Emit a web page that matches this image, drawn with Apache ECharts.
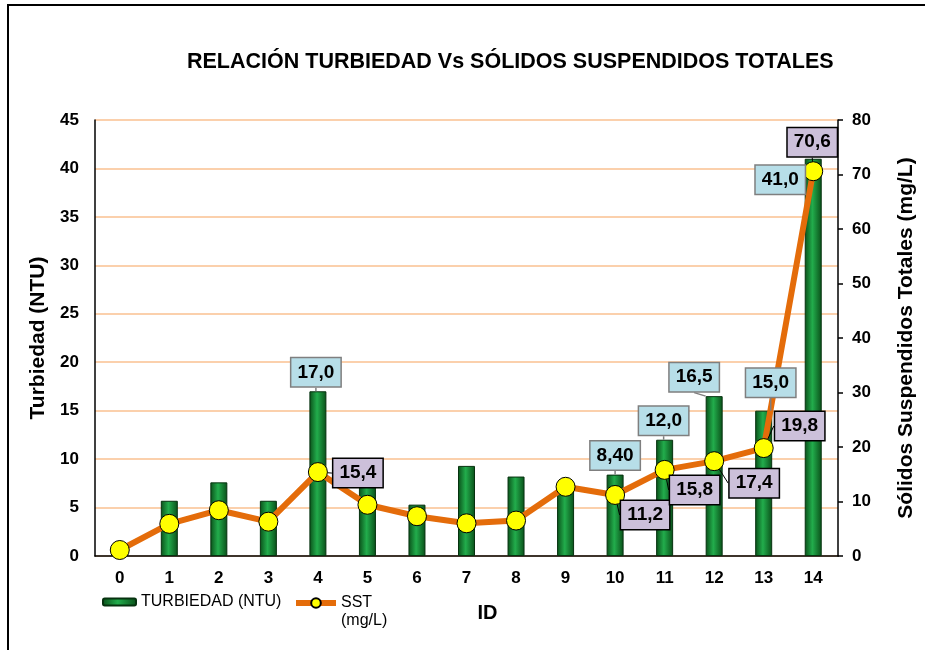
<!DOCTYPE html>
<html>
<head>
<meta charset="utf-8">
<script src="https://cdn.jsdelivr.net/npm/echarts@6/dist/echarts.min.js"></script>
<style>
  html, body { margin: 0; padding: 0; background: #fff; }
  #chart { width: 925px; height: 650px; }
</style>
</head>
<body>
<div id="chart"></div>
<script>
// datos
const ids = ['0', '1', '2', '3', '4', '5', '6', '7', '8', '9', '10', '11', '12', '13', '14'];
const turbiedad = [0.3, 5.7, 7.6, 5.7, 17.0, 7.6, 5.3, 9.3, 8.2, 7.2, 8.4, 12.0, 16.5, 15.0, 41.0];
const sst = [1.1, 5.9, 8.4, 6.3, 15.4, 9.4, 7.3, 6.0, 6.5, 12.7, 11.2, 15.8, 17.4, 19.8, 70.6];
const turbLabels = ['', '', '', '', '17,0', '', '', '', '', '', '8,40', '12,0', '16,5', '15,0', '41,0'];
const sstLabels = ['', '', '', '', '15,4', '', '', '', '', '', '11,2', '15,8', '17,4', '19,8', '70,6'];
const leftTicks = { min: 0, max: 45, interval: 5 };
const rightTicks = { min: 0, max: 80, interval: 10 };

const FONT = 'Arial, "Liberation Sans", sans-serif';

// desplazamiento de las etiquetas (centro de la caja respecto al punto de anclaje)
const turbOffsets = { 4: [-2, -19], 10: [0, -19], 11: [-1, -19], 12: [-20, -19], 13: [7, -28], 14: [-33, 21] };
const sstOffsets = { 4: [40, 1], 10: [30, 20], 11: [30, 20], 12: [40, 22], 13: [36, -22], 14: [-1, -29] };

const chart = echarts.init(document.getElementById('chart'));

const labelBox = {
  fontFamily: FONT,
  fontSize: 19,
  fontWeight: 'bold',
  color: '#000',
  lineHeight: 20,
  padding: [4, 6, 4, 6]
};

const barColor = new echarts.graphic.LinearGradient(0, 0, 1, 0, [
  { offset: 0, color: '#0a4f19' },
  { offset: 0.45, color: '#22ad4c' },
  { offset: 1, color: '#0a4f19' }
]);

const option = {
  animation: false,
  backgroundColor: '#fff',
  textStyle: { fontFamily: FONT },
  title: {
    text: 'RELACIÓN TURBIEDAD Vs SÓLIDOS SUSPENDIDOS TOTALES',
    left: 187,
    top: 51,
    padding: 0,
    textStyle: { fontFamily: FONT, fontSize: 21.5, fontWeight: 'bold', color: '#000' }
  },
  graphic: [
    {
      type: 'rect',
      shape: { x: 8, y: 5, width: 1000, height: 1000 },
      style: { fill: 'none', stroke: '#000', lineWidth: 2 },
      z: 100
    }
  ],
  legend: [
    {
      data: ['TURBIEDAD (NTU)'],
      left: 102,
      top: 594,
      padding: 0,
      itemWidth: 33,
      itemHeight: 7,
      textStyle: { fontFamily: FONT, fontSize: 16, color: '#000' }
    },
    {
      data: ['SST (mg/L)'],
      left: 293,
      top: 576,
      padding: 0,
      itemWidth: 40,
      itemHeight: 12,
      lineStyle: { width: 6 },
      formatter: () => ' \nSST\n(mg/L)',
      textStyle: { fontFamily: FONT, fontSize: 16, lineHeight: 18, color: '#000' }
    }
  ],
  grid: { left: 95, right: 84, top: 120, bottom: 94 },
  xAxis: {
    type: 'category',
    data: ids,
    name: 'ID',
    nameLocation: 'middle',
    nameGap: 47,
    nameTextStyle: { fontFamily: FONT, fontSize: 20, fontWeight: 'bold', color: '#000', padding: [0, 0, 0, 42] },
    axisLine: { lineStyle: { color: '#000', width: 1.5 } },
    axisTick: { show: false },
    axisLabel: { fontFamily: FONT, fontSize: 17, fontWeight: 'bold', color: '#000', margin: 14 }
  },
  yAxis: [
    {
      type: 'value',
      min: leftTicks.min,
      max: leftTicks.max,
      interval: leftTicks.interval,
      name: 'Turbiedad (NTU)',
      nameLocation: 'middle',
      nameGap: 44,
      nameTextStyle: { fontFamily: FONT, fontSize: 21, fontWeight: 'bold', color: '#000' },
      axisLine: { show: true, lineStyle: { color: '#000', width: 1.5 } },
      axisTick: { show: false },
      axisLabel: { fontFamily: FONT, fontSize: 17, fontWeight: 'bold', color: '#000', margin: 16 },
      splitLine: { lineStyle: { color: '#fac090', width: 1.5 } }
    },
    {
      type: 'value',
      min: rightTicks.min,
      max: rightTicks.max,
      interval: rightTicks.interval,
      position: 'right',
      name: 'Sólidos Suspendidos Totales (mg/L)',
      nameLocation: 'middle',
      nameGap: 58,
      nameTextStyle: { fontFamily: FONT, fontSize: 21, fontWeight: 'bold', color: '#000' },
      axisLine: { show: true, lineStyle: { color: '#000', width: 1.5 } },
      axisTick: { show: true, length: 5, lineStyle: { color: '#000', width: 1.5 } },
      axisLabel: { fontFamily: FONT, fontSize: 17, fontWeight: 'bold', color: '#000', margin: 14 },
      splitLine: { show: false }
    }
  ],
  series: [
    {
      name: 'TURBIEDAD (NTU)',
      type: 'bar',
      yAxisIndex: 0,
      barWidth: 17,
      data: turbiedad,
      itemStyle: { color: barColor, borderColor: '#06320f', borderWidth: 1 },
      z: 2
    },
    {
      name: 'SST (mg/L)',
      type: 'line',
      yAxisIndex: 1,
      data: sst.map((v, i) => ({ value: v, label: { show: sstLabels[i] !== '' } })),
      symbol: 'circle',
      symbolSize: 19,
      lineStyle: { color: '#e46c0a', width: 6 },
      itemStyle: { color: '#ffff00', borderColor: '#000', borderWidth: 1 },
      label: {
        position: 'top',
        formatter: p => sstLabels[p.dataIndex],
        backgroundColor: '#ccc0da',
        borderColor: '#000',
        borderWidth: 1.5,
        ...labelBox
      },
      labelLine: { show: true, lineStyle: { color: '#000', width: 1 } },
      labelLayout: p => {
        const o = sstOffsets[p.dataIndex];
        if (!o) return {};
        return {
          x: p.rect.x + p.rect.width / 2 + o[0],
          y: p.rect.y + p.rect.height / 2 + o[1],
          align: 'center',
          verticalAlign: 'middle'
        };
      },
      z: 3
    },
    {
      // capa transparente encima de la línea, solo para las etiquetas de turbiedad
      name: 'etiquetas',
      type: 'bar',
      yAxisIndex: 0,
      barWidth: 17,
      barGap: '-100%',
      silent: true,
      data: turbiedad.map((v, i) => ({ value: v, label: { show: turbLabels[i] !== '' } })),
      itemStyle: { color: 'rgba(0,0,0,0)' },
      label: {
        position: 'top',
        formatter: p => turbLabels[p.dataIndex],
        backgroundColor: '#b7dee8',
        borderColor: '#7f7f7f',
        borderWidth: 1.5,
        ...labelBox
      },
      labelLine: { show: true, lineStyle: { color: '#7f7f7f', width: 1.5 } },
      labelLayout: p => {
        const o = turbOffsets[p.dataIndex];
        if (!o) return {};
        return {
          x: p.rect.x + p.rect.width / 2 + o[0],
          y: p.rect.y + o[1],
          align: 'center',
          verticalAlign: 'middle'
        };
      },
      z: 5
    }
  ]
};

chart.setOption(option);
</script>
</body>
</html>
